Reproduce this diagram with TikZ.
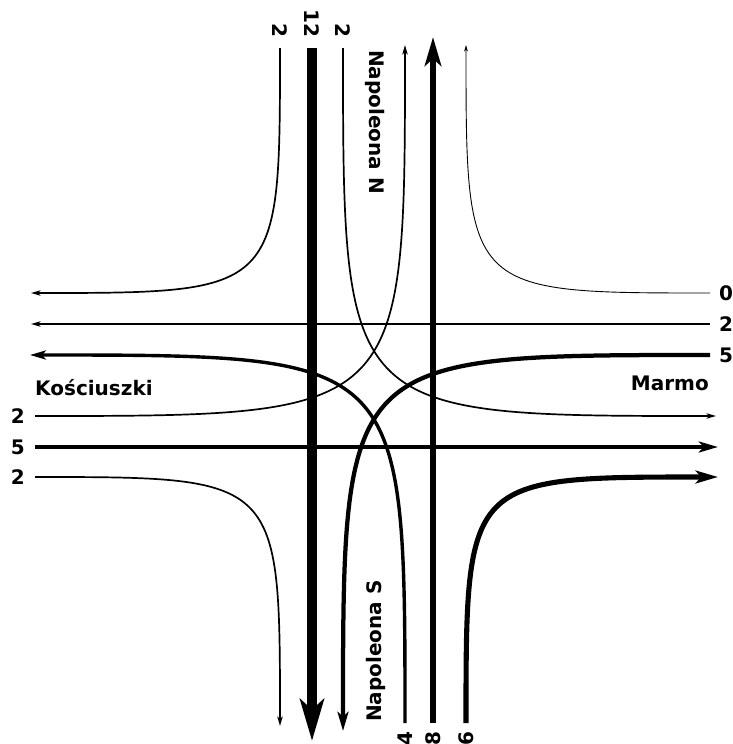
\documentclass[tikz,border=0pt]{standalone}
\usepackage{fontspec}
\setmainfont{DejaVu Sans}
\usetikzlibrary{arrows.meta}
\tikzset{
  flow/.style={
    line width={max(0.9,0.85*#1)*1pt},
    -{Stealth[length=3pt 3.8, width'=0pt 0.57, inset'=0pt 0.25]}
  },
  lbl/.style={font=\bfseries\fontsize{20}{24}\selectfont, inner sep=0pt},
}
\begin{document}
\begin{tikzpicture}[x=1pt, y=-1pt]
  \useasboundingbox (0,0) rectangle (733,744);

  % Napoleona N (in: nA nB nC, out: nX1 nX2 nX3)
  \coordinate (nA) at (280,48);
  \coordinate (nB) at (312,48);
  \coordinate (nC) at (343,48);
  \coordinate (nX1) at (405,45);
  \coordinate (nX2) at (433,37);
  \coordinate (nX3) at (466,45);
  % Napoleona S
  \coordinate (sA) at (405,723);
  \coordinate (sB) at (433,723);
  \coordinate (sC) at (466,723);
  \coordinate (sX1) at (280,726);
  \coordinate (sX2) at (312,741);
  \coordinate (sX3) at (343,731);
  % Kosciuszki
  \coordinate (wA) at (35,416);
  \coordinate (wB) at (35,447);
  \coordinate (wC) at (35,477);
  \coordinate (wX1) at (31,293);
  \coordinate (wX2) at (31,324);
  \coordinate (wX3) at (30,355);
  % Marmo
  \coordinate (eA) at (710,293);
  \coordinate (eB) at (710,324);
  \coordinate (eC) at (710,355);
  \coordinate (eX1) at (716,416);
  \coordinate (eX2) at (718,447);
  \coordinate (eX3) at (718,477);

  % Street names
  \node[lbl, rotate=-90, anchor=west] (napN) at (375,50) {Napoleona N};
  \node[lbl, rotate=90, anchor=west] (napS) at (376,722) {Napoleona S};
  \node[lbl, anchor=base west] (kosc) at (35,395) {Kościuszki};
  \node[lbl, anchor=base east] (marm) at (709,390) {Marmo};

  % Counts
  \node[lbl, rotate=-90, anchor=east] (cnA) at (280,38) {2};
  \node[lbl, rotate=-90, anchor=east] (cnB) at (312,38) {12};
  \node[lbl, rotate=-90, anchor=east] (cnC) at (343,38) {2};
  \node[lbl, rotate=90, anchor=east] (csA) at (405,731) {4};
  \node[lbl, rotate=90, anchor=east] (csB) at (433,731) {8};
  \node[lbl, rotate=90, anchor=east] (csC) at (466,731) {6};
  \node[lbl, anchor=east] (cwA) at (25,416) {2};
  \node[lbl, anchor=east] (cwB) at (25,447) {5};
  \node[lbl, anchor=east] (cwC) at (25,477) {2};
  \node[lbl, anchor=west] (ceA) at (719,293) {0};
  \node[lbl, anchor=west] (ceB) at (719,324) {2};
  \node[lbl, anchor=west] (ceC) at (719,355) {5};

  % Flows from north
  \draw[flow=2] (nA) .. controls (nA |- wX1) and (nA |- wX1) .. (wX1);
  \draw[flow=12] (nB) -- (sX2);
  \draw[flow=2] (nC) .. controls (nC |- eX1) and (nC |- eX1) .. (eX1);
  % Flows from south
  \draw[flow=4] (sA) .. controls (sA |- wX3) and (sA |- wX3) .. (wX3);
  \draw[flow=8] (sB) -- (nX2);
  \draw[flow=6] (sC) .. controls (sC |- eX3) and (sC |- eX3) .. (eX3);
  % Flows from west
  \draw[flow=2] (wA) .. controls (nX1 |- wA) and (nX1 |- wA) .. (nX1);
  \draw[flow=5] (wB) -- (eX2);
  \draw[flow=2] (wC) .. controls (sX1 |- wC) and (sX1 |- wC) .. (sX1);
  % Flows from east
  \draw[flow=0] (eA) .. controls (nX3 |- eA) and (nX3 |- eA) .. (nX3);
  \draw[flow=2] (eB) -- (wX2);
  \draw[flow=5] (eC) .. controls (sX3 |- eC) and (sX3 |- eC) .. (sX3);
\end{tikzpicture}
\end{document}
